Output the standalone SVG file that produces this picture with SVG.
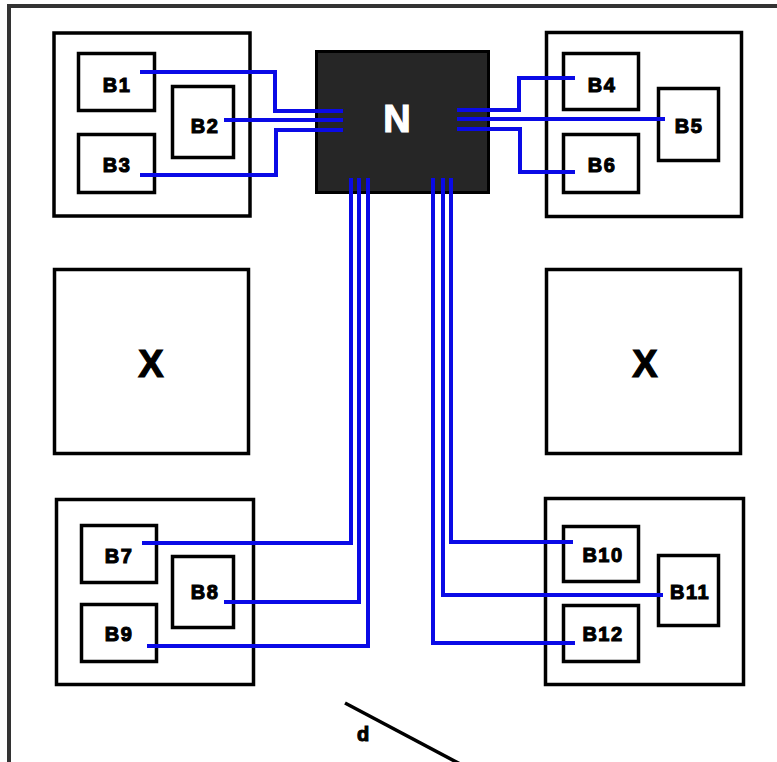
<svg xmlns="http://www.w3.org/2000/svg" width="777" height="762" viewBox="0 0 777 762">
<style>
.box{fill:#fff;stroke:#000;stroke-width:3.5}
.lbl{font-family:"Liberation Sans",Arial,sans-serif;font-weight:bold;font-size:20px;fill:#000;stroke:#000;stroke-width:1.1;text-anchor:middle;letter-spacing:1.5px}
.big{font-family:"Liberation Sans",Arial,sans-serif;font-weight:bold;font-size:38px;stroke-width:1.2;text-anchor:middle}
.wire{fill:none;stroke:#0a0ae6;stroke-width:4}
</style>
<rect width="777" height="762" fill="#fff"/>
<g id="frame" fill="none" stroke="#333" stroke-width="4">
<path d="M9,764 V6 H779"/>
</g>
<g id="groupTL"><rect class="box" x="54" y="33" width="196" height="183"/></g>
<g id="B1"><rect class="box" x="78.5" y="53.5" width="76" height="57"/><text class="lbl" x="117" y="92">B1</text></g>
<g id="B2"><rect class="box" x="172.5" y="86.5" width="61" height="71"/><text class="lbl" x="205" y="133">B2</text></g>
<g id="B3"><rect class="box" x="78.5" y="134.5" width="76" height="58"/><text class="lbl" x="117" y="172">B3</text></g>
<g id="groupTR"><rect class="box" x="546.5" y="32.5" width="195" height="184"/></g>
<g id="B4"><rect class="box" x="563.5" y="53.5" width="75" height="56"/><text class="lbl" x="602" y="92">B4</text></g>
<g id="B5"><rect class="box" x="658.5" y="88.5" width="60" height="72"/><text class="lbl" x="689" y="133">B5</text></g>
<g id="B6"><rect class="box" x="563.5" y="134.5" width="75" height="58"/><text class="lbl" x="602" y="172">B6</text></g>
<g id="XL"><rect class="box" x="54.5" y="269.5" width="194" height="184"/><text class="big" x="151" y="377" fill="#000" stroke="#000">X</text></g>
<g id="XR"><rect class="box" x="546.5" y="269.5" width="194" height="184"/><text class="big" x="645" y="377" fill="#000" stroke="#000">X</text></g>
<g id="groupBL"><rect class="box" x="56.5" y="499.5" width="197" height="185"/></g>
<g id="B7"><rect class="box" x="81.5" y="525.5" width="75" height="57"/><text class="lbl" x="119" y="563">B7</text></g>
<g id="B8"><rect class="box" x="172.5" y="556.5" width="61" height="71"/><text class="lbl" x="205" y="599">B8</text></g>
<g id="B9"><rect class="box" x="81.5" y="604.5" width="75" height="57"/><text class="lbl" x="119" y="641">B9</text></g>
<g id="groupBR"><rect class="box" x="545.5" y="498.5" width="198" height="186"/></g>
<g id="B10"><rect class="box" x="563.5" y="526.5" width="75" height="55"/><text class="lbl" x="603" y="562">B10</text></g>
<g id="B11"><rect class="box" x="658.5" y="555.5" width="60" height="70"/><text class="lbl" x="690" y="599">B11</text></g>
<g id="B12"><rect class="box" x="563.5" y="605.5" width="75" height="56"/><text class="lbl" x="603" y="641">B12</text></g>
<g id="N"><rect x="316.5" y="51.5" width="172" height="141" fill="#262626" stroke="#000" stroke-width="3"/><text class="big" x="397" y="132" fill="#fff" stroke="#fff">N</text></g>
<g id="connectors">
<path class="wire" d="M140,72 H275 V111 H343"/>
<path class="wire" d="M224,120 H343"/>
<path class="wire" d="M140,175 H276 V130 H343"/>
<path class="wire" d="M457,110 H519 V78 H575"/>
<path class="wire" d="M457,119 H665"/>
<path class="wire" d="M457,129 H520 V172 H575"/>
<path class="wire" d="M142,543 H351 V178"/>
<path class="wire" d="M224,602 H359 V178"/>
<path class="wire" d="M147,646 H368 V178"/>
<path class="wire" d="M573,542 H451 V178"/>
<path class="wire" d="M663,595 H443 V178"/>
<path class="wire" d="M575,643 H433 V178"/>
</g>
<g id="d">
<line x1="345" y1="703" x2="462" y2="765" stroke="#000" stroke-width="3.5"/>
<text class="lbl" x="363" y="741" style="letter-spacing:0">d</text>
</g>
</svg>
